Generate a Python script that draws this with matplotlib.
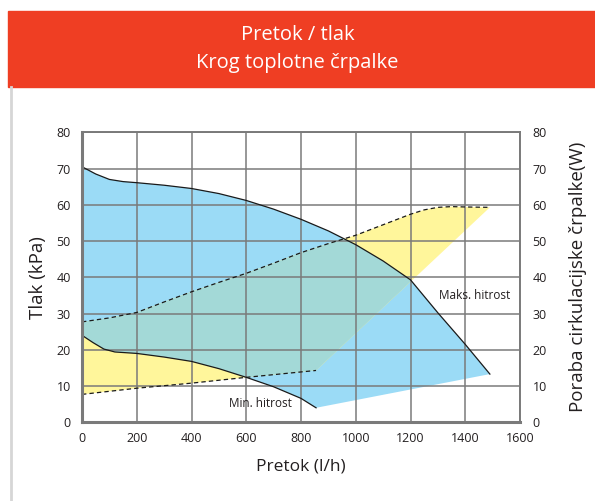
import numpy as np
import matplotlib
matplotlib.use("Agg")
import matplotlib.pyplot as plt
from matplotlib.patches import Rectangle
from matplotlib.lines import Line2D

plt.rcParams["font.family"] = ["Open Sans", "DejaVu Sans"]

# tlak (kPa) - maks. hitrost
max_x = [0, 50, 100, 150, 200, 300, 400, 500, 600, 700, 800, 900, 1000, 1100, 1200, 1300, 1400, 1490]
max_y = [70.5, 68.5, 67.0, 66.4, 66.1, 65.4, 64.5, 63.1, 61.2, 58.8, 56.0, 52.8, 49.0, 44.5, 39.3, 30.2, 21.5, 13.3]

# tlak (kPa) - min. hitrost
min_x = [0, 40, 80, 120, 200, 300, 400, 500, 600, 700, 800, 855]
min_y = [24.0, 22.0, 20.2, 19.4, 19.0, 18.0, 16.8, 14.8, 12.4, 9.8, 6.6, 4.0]

# poraba črpalke (W)
pw_hi_x = [0, 100, 200, 300, 400, 500, 600, 700, 800, 900, 1000, 1100, 1200, 1250, 1300, 1350, 1400, 1490]
pw_hi_y = [27.7, 28.8, 30.3, 33.2, 36.0, 38.6, 41.1, 43.9, 46.8, 49.3, 51.6, 54.5, 57.4, 58.6, 59.3, 59.5, 59.4, 59.3]
pw_lo_x = [0, 200, 400, 600, 855]
pw_lo_y = [7.7, 9.4, 10.8, 12.4, 14.3]

x_ticks = list(range(0, 1601, 200))
y_ticks = list(range(0, 81, 10))

BLUE = "#9bdbf6"
YELLOW = "#fff69b"
TEAL = "#a3d9d7"
GRID = "#7a7a7a"
RED = "#ef3e23"
TXT = "#231f20"

fig = plt.figure(figsize=(5.95, 5.01), dpi=100)

# naslovni pas
fig.patches.append(Rectangle((8 / 595, 1 - 87 / 501), 1, 76 / 501,
                             transform=fig.transFigure, color=RED, zorder=0))
fig.text(0.5, 1 - 35 / 501, "Pretok / tlak", color="white", fontsize=14.5,
         ha="center", va="center")
fig.text(0.5, 1 - 63 / 501, "Krog toplotne črpalke", color="white", fontsize=14.5,
         ha="center", va="center")
fig.lines.append(Line2D([10.5 / 595, 10.5 / 595], [0, 1 - 87 / 501],
                        transform=fig.transFigure, color="#d6d6d6", lw=2))

ax = fig.add_axes([82 / 595, 1 - 422.3 / 501, 438 / 595, 290 / 501])
ax.set_xlim(0, 1600)
ax.set_ylim(0, 80)

blue_x = max_x + min_x[::-1]
blue_y = max_y + min_y[::-1]
yel_x = pw_hi_x + pw_lo_x[::-1]
yel_y = pw_hi_y + pw_lo_y[::-1]

blue = ax.fill(blue_x, blue_y, color=BLUE, lw=0, zorder=1)[0]
ax.fill(yel_x, yel_y, color=YELLOW, lw=0, zorder=1)
overlap = ax.fill(yel_x, yel_y, color=TEAL, lw=0, zorder=2)[0]
overlap.set_clip_path(blue)

ax.plot(max_x, max_y, color="#1a1a1a", lw=0.9, zorder=4)
ax.plot(min_x, min_y, color="#1a1a1a", lw=0.9, zorder=4)
ax.plot(pw_hi_x, pw_hi_y, color="#1a1a1a", lw=0.9, ls=(0, (3.5, 2.5)), zorder=4)
ax.plot(pw_lo_x, pw_lo_y, color="#1a1a1a", lw=0.9, ls=(0, (3.5, 2.5)), zorder=4)

ax.text(1303, 35.1, "Maks. hitrost", fontsize=8.5, color=TXT, va="center", zorder=5)
ax.text(536, 5.3, "Min. hitrost", fontsize=8.5, color=TXT, va="center", zorder=5)

ax.set_xticks(x_ticks)
ax.set_yticks(y_ticks)
ax.grid(True, color=GRID, lw=1.1, zorder=3)
ax.set_axisbelow(False)
for s in ax.spines.values():
    s.set_color(GRID)
    s.set_linewidth(1.4)
    s.set_zorder(6)
ax.spines["left"].set_linewidth(2.2)
ax.spines["bottom"].set_linewidth(2.2)
ax.tick_params(length=0, labelsize=9, colors=TXT)
ax.tick_params(axis="y", pad=8)
ax.tick_params(axis="x", pad=7)
ax.set_xlabel("Pretok (l/h)", fontsize=12.5, color=TXT, labelpad=10)
ax.set_ylabel("Tlak (kPa)", fontsize=13.5, color=TXT, labelpad=7)

ax2 = ax.twinx()
ax2.set_ylim(0, 80)
ax2.set_yticks(y_ticks)
ax2.tick_params(length=0, labelsize=9, colors=TXT, pad=9)
for s in ax2.spines.values():
    s.set_visible(False)
ax2.set_ylabel("Poraba cirkulacijske črpalke(W)", fontsize=13.5, color=TXT, labelpad=16)

fig.savefig("out.png", dpi=100)
